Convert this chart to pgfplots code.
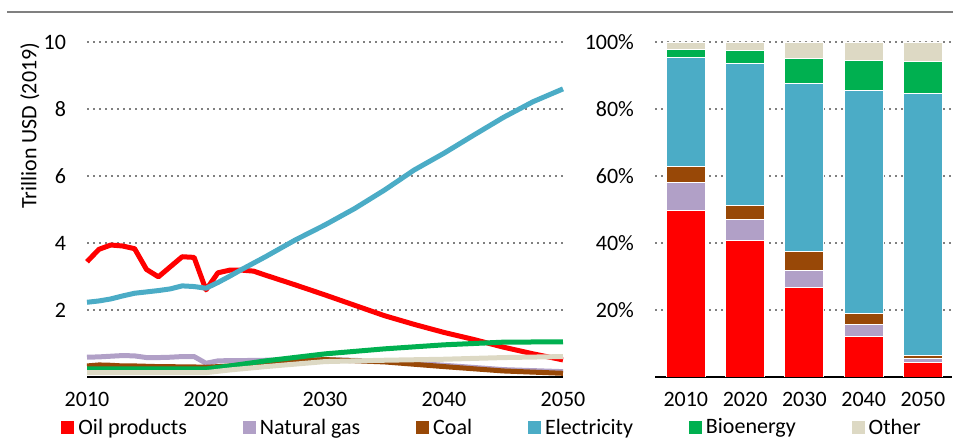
\documentclass[border=0pt]{standalone}
\usepackage{fontspec}
\setmainfont{Carlito}
\usepackage{pgfplots}
\pgfplotsset{compat=1.18}

\definecolor{oil}{HTML}{FF0000}
\definecolor{gas}{HTML}{B1A0C7}
\definecolor{coal}{HTML}{984807}
\definecolor{elec}{HTML}{4BACC6}
\definecolor{bio}{HTML}{00B050}
\definecolor{other}{HTML}{DDD9C4}
\definecolor{gridgray}{HTML}{808080}

\newcommand{\fs}{\fontsize{11}{13}\selectfont}

\pgfplotsset{
  base/.style={
    scale only axis,
    height=167.5pt,
    anchor=south west,
    axis x line*=bottom,
    axis y line*=left,
    y axis line style={draw=none},
    x axis line style={-, black, line width=0.8pt},
    major tick length=0pt,
    ymajorgrids,
    grid style={gridgray, line width=1pt, dash pattern=on 1pt off 2pt},
    tick label style={font=\fs},
    label style={font=\fs},
    yticklabel style={xshift=-7pt},
    xticklabel style={yshift=-4pt},
    /pgf/number format/assume math mode=true,
    /pgf/number format/1000 sep={},
  },
  ln/.style={line width=2.5pt, line join=round},
}

\begin{document}
\begin{tikzpicture}
\path[use as bounding box] (0,0) rectangle (477pt,219pt);
\draw[gridgray, line width=1pt] (3.5pt,213pt) -- (476.5pt,213pt);

\begin{axis}[
  base,
  at={(43.5pt,30.5pt)},
  width=238pt,
  xmin=2010, xmax=2050,
  ymin=0, ymax=10,
  xtick={2010,2020,2030,2040,2050},
  ytick={2,4,6,8,10},
  clip=false,
  ylabel={Trillion USD (2019)},
  ylabel style={at={(axis description cs:-0.12,0.75)}, anchor=center},
  legend columns=6,
  legend style={at={(axis description cs:-0.0546,-0.152)}, anchor=west,
    draw=none, fill=none, inner sep=0pt, font=\fs,
    /tikz/every even column/.append style={column sep=26pt}},
  legend image code/.code={\fill[#1,draw=none] (0pt,-3.25pt) rectangle (6.5pt,3.25pt);},
]
\addplot[ln, color=oil] coordinates {
  (2010,3.44) (2011,3.81) (2012,3.94) (2013,3.91) (2014,3.83) (2015,3.21)
  (2016,2.99) (2017,3.29) (2018,3.59) (2019,3.57) (2020,2.60) (2021,3.11)
  (2022,3.19) (2023,3.19) (2024,3.16) (2025,3.04) (2027.5,2.75) (2030,2.45)
  (2032.5,2.14) (2035,1.83) (2037.5,1.57) (2040,1.33) (2042.5,1.12)
  (2045,0.89) (2047.5,0.69) (2050,0.51)
};
\addplot[ln, color=gas] coordinates {
  (2010,0.59) (2011,0.60) (2012,0.62) (2013,0.64) (2014,0.63) (2015,0.58)
  (2016,0.58) (2017,0.59) (2018,0.61) (2019,0.61) (2020,0.41) (2021,0.48)
  (2022,0.49) (2023,0.49) (2025,0.50) (2030,0.52) (2035,0.47) (2040,0.35)
  (2045,0.22) (2050,0.16)
};
\addplot[ln, color=coal] coordinates {
  (2010,0.33) (2011,0.36) (2012,0.35) (2013,0.33) (2014,0.33) (2015,0.32)
  (2016,0.31) (2017,0.31) (2018,0.30) (2019,0.30) (2020,0.29) (2022,0.33)
  (2025,0.43) (2030,0.52) (2035,0.45) (2040,0.31) (2045,0.18) (2050,0.11)
};
\addplot[ln, color=elec] coordinates {
  (2010,2.23) (2011,2.27) (2012,2.33) (2013,2.42) (2014,2.50) (2015,2.54)
  (2016,2.58) (2017,2.63) (2018,2.72) (2019,2.70) (2020,2.65) (2021,2.82)
  (2022,3.01) (2023,3.21) (2025,3.59) (2027.5,4.09) (2030,4.54) (2032.5,5.03)
  (2035,5.58) (2037.5,6.18) (2040,6.68) (2042.5,7.22) (2045,7.75)
  (2047.5,8.22) (2050,8.60)
};
\addplot[ln, color=bio] coordinates {
  (2010,0.24) (2015,0.24) (2020,0.24) (2022,0.33) (2025,0.48) (2030,0.69)
  (2035,0.84) (2040,0.96) (2045,1.04) (2050,1.05)
};
\addplot[ln, color=other] coordinates {
  (2010,0.13) (2015,0.13) (2020,0.13) (2022,0.21) (2025,0.31) (2030,0.46)
  (2035,0.50) (2040,0.53) (2045,0.58) (2050,0.61)
};
\legend{Oil products, Natural gas, Coal, Electricity, Bioenergy, Other}
\end{axis}

\begin{axis}[
  base,
  at={(327.5pt,30.5pt)},
  width=148.5pt,
  xmin=-0.52, xmax=4.49,
  ymin=0, ymax=100,
  ybar stacked,
  bar width=19.5pt,
  xtick={0,1,2,3,4},
  xticklabels={2010,2020,2030,2040,2050},
  ytick={20,40,60,80,100},
  yticklabels={20\%,40\%,60\%,80\%,100\%},
  every axis plot/.append style={draw=white, line width=0.4pt},
]
\addplot[fill=oil] coordinates {(0,49.6) (1,40.7) (2,26.7) (3,12.0) (4,4.3)};
\addplot[fill=gas] coordinates {(0,8.6) (1,6.4) (2,5.2) (3,3.6) (4,1.3)};
\addplot[fill=coal] coordinates {(0,4.6) (1,4.0) (2,5.6) (3,3.4) (4,0.8)};
\addplot[fill=elec] coordinates {(0,32.5) (1,42.6) (2,50.1) (3,66.5) (4,78.3)};
\addplot[fill=bio] coordinates {(0,2.6) (1,3.9) (2,7.4) (3,8.9) (4,9.4)};
\addplot[fill=other] coordinates {(0,2.1) (1,2.4) (2,5.0) (3,5.6) (4,5.9)};
\end{axis}
\end{tikzpicture}
\end{document}
